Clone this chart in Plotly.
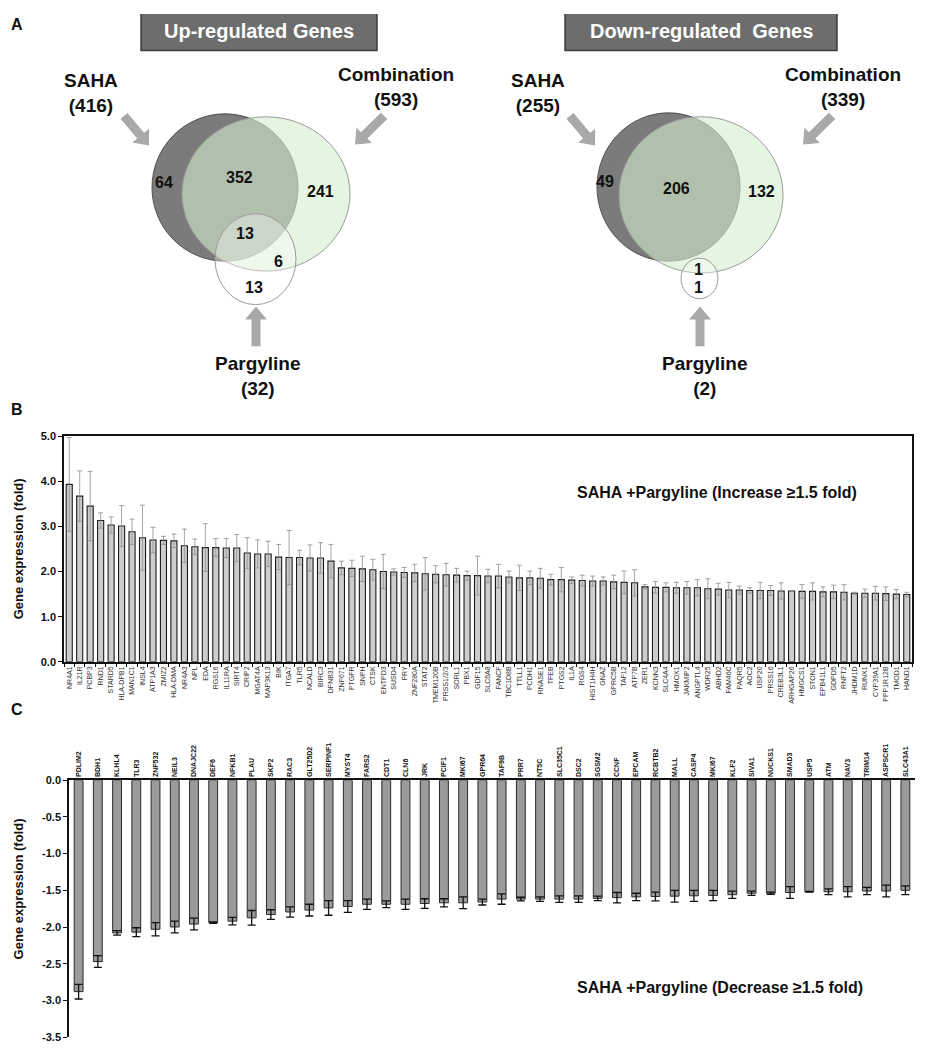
import numpy as np
import plotly.graph_objects as go

W, H = 933, 1050
FONT = "Liberation Sans, Arial, sans-serif"
# the page body margin shifts the figure by this much; positions below are page pixels
OX, OY = 8.0, 8.0

# ---- panel A : Venn counts
up_totals = [416, 593, 32]          # SAHA, Combination, Pargyline
up_regions = [64, 352, 241, 13, 6, 13]
down_totals = [255, 339, 2]
down_regions = [49, 206, 132, 1, 1]

# ---- panel B : increased genes
up_genes = [
    "NR4A1", "IL21R", "PCBP3", "RND1", "STARD5", "HLA-DPB1", "MAN1C1", "INSL4",
    "ATP1A3", "ZMIZ2", "HLA-DMA", "NR4A3", "NPL", "EDA", "RGS16", "IL11RA",
    "SIRT4", "CRIP2", "MGAT4A", "MAP3K13", "BIK", "ITGA7", "TLR5", "NCALD",
    "BIRC3", "DFNB31", "ZNF671", "PTGFR", "SNPH", "CTSK", "ENTPD3", "SUSD4",
    "FRY", "ZNF280A", "STAT2", "TMEM120B", "PRSS1/2/3", "SORL1", "PBX1", "GDF15",
    "SLC6A8", "FANCF", "TBC1D8B", "TTLL1", "PCDH1", "RNASE1", "TFEB", "PTGS2",
    "IL1A", "RGS4", "HIST1H4H", "GNAZ", "GPRC5B", "TAF12", "ATP7B", "ZER1",
    "KCNN3", "SLC4A4", "HMOX1", "JAKMIP2", "ANGPTL4", "WDR25", "ABHD2", "FAM46C",
    "PAQR5", "AOC2", "USP20", "PRSS16", "CREB3L1", "ARHGAP26", "HMGCS1", "STON1",
    "EPB41L1", "GDPD5", "RNFT2", "JHDM1D", "RUNX1", "CYP39A1", "PPP1R12B", "TMOD1",
    "HAND1",
]
up_fold = [
    3.93, 3.67, 3.45, 3.13, 3.03, 3.01, 2.88, 2.75, 2.70, 2.69, 2.68, 2.57,
    2.55, 2.53, 2.53, 2.52, 2.52, 2.41, 2.39, 2.39, 2.32, 2.31, 2.31, 2.30,
    2.30, 2.23, 2.08, 2.07, 2.06, 2.04, 2.00, 1.99, 1.98, 1.97, 1.95, 1.94,
    1.93, 1.92, 1.91, 1.91, 1.90, 1.90, 1.88, 1.86, 1.86, 1.85, 1.82, 1.82,
    1.81, 1.80, 1.79, 1.79, 1.77, 1.76, 1.75, 1.66, 1.65, 1.65, 1.64, 1.64,
    1.64, 1.62, 1.61, 1.59, 1.59, 1.58, 1.58, 1.58, 1.57, 1.57, 1.56, 1.56,
    1.55, 1.55, 1.54, 1.52, 1.52, 1.52, 1.51, 1.50, 1.49,
]
up_err = [
    1.04, 0.56, 0.77, 0.17, 0.18, 0.45, 0.28, 0.72, 0.28, 0.09, 0.15, 0.37,
    0.17, 0.53, 0.20, 0.21, 0.30, 0.34, 0.31, 0.28, 0.28, 0.60, 0.16, 0.29,
    0.34, 0.37, 0.15, 0.18, 0.28, 0.23, 0.38, 0.07, 0.11, 0.19, 0.36, 0.19,
    0.25, 0.15, 0.10, 0.43, 0.15, 0.26, 0.13, 0.28, 0.15, 0.22, 0.12, 0.27,
    0.07, 0.12, 0.11, 0.09, 0.15, 0.25, 0.29, 0.05, 0.13, 0.10, 0.12, 0.14,
    0.18, 0.22, 0.13, 0.17, 0.09, 0.06, 0.18, 0.11, 0.18, 0.01, 0.15, 0.19,
    0.11, 0.15, 0.17, 0.02, 0.09, 0.15, 0.15, 0.10, 0.05,
]

# ---- panel C : decreased genes
down_genes = [
    "PDLIM2", "BDH1", "KLHL4", "TLR3", "ZNF532", "NEIL3", "DNAJC22", "DEF6",
    "NFKB1", "PLAU", "SKP2", "RAC3", "GLT25D2", "SERPINF1", "MYST4", "FARS2",
    "CDT1", "CLN6", "JRK", "PCIF1", "MKI67", "GPR64", "TAF9B", "PRR7", "NT5C",
    "SLC35C1", "DSC2", "SGSM2", "CCNF", "EPCAM", "RCBTB2", "MALL", "CASP4",
    "MKI67", "KLF2", "SIVA1", "NUCKS1", "SMAD3", "USP5", "ATM", "NAV3",
    "TRIM14", "ASPSCR1", "SLC43A1",
]
down_fold = [
    -2.88, -2.47, -2.08, -2.07, -2.03, -2.00, -1.96, -1.94, -1.92, -1.875,
    -1.83, -1.795, -1.77, -1.74, -1.72, -1.69, -1.69, -1.69, -1.68, -1.67,
    -1.67, -1.66, -1.62, -1.62, -1.62, -1.62, -1.62, -1.61, -1.60, -1.59,
    -1.585, -1.58, -1.575, -1.57, -1.56, -1.54, -1.54, -1.53, -1.52, -1.52,
    -1.52, -1.51, -1.51, -1.50,
]
down_err = [
    0.10, 0.08, 0.03, 0.06, 0.09, 0.08, 0.08, 0.01, 0.05, 0.10, 0.065, 0.07,
    0.08, 0.10, 0.08, 0.07, 0.045, 0.07, 0.065, 0.055, 0.08, 0.04, 0.07, 0.025,
    0.03, 0.045, 0.045, 0.03, 0.07, 0.05, 0.06, 0.08, 0.075, 0.07, 0.05, 0.03,
    0.015, 0.08, 0.005, 0.04, 0.07, 0.05, 0.08, 0.06,
]
c_ticks = [0.0, -0.5, -1.0, -1.5, -2.0, -2.5, -3.0, -3.5]


def px(x):
    return (x - OX) / W


def py(y):
    return 1 - (y - OY) / H


def block_arrow(x0, y0, x1, y1, shaft=4.5, head=11.0, head_len=13.0):
    p0, p1 = np.array([x0, y0], float), np.array([x1, y1], float)
    u = (p1 - p0) / np.linalg.norm(p1 - p0)
    n = np.array([-u[1], u[0]])
    b = p1 - u * head_len
    pts = [p0 + n * shaft, b + n * shaft, b + n * head, p1,
           b - n * head, b - n * shaft, p0 - n * shaft]
    return "M " + " L ".join(f"{p[0]:.1f},{p[1]:.1f}" for p in pts) + " Z"


fig = go.Figure()

# panel B bars
fig.add_trace(go.Bar(
    x=up_genes, y=up_fold, width=0.58,
    marker=dict(color="#cdcdcd", line=dict(color="#1a1a1a", width=1.1)),
    error_y=dict(type="data", array=up_err, color="#8e8e8e", thickness=0.8, width=2.5),
    xaxis="x", yaxis="y", showlegend=False,
))

# panel C bars
fig.add_trace(go.Bar(
    x=list(range(len(down_genes))), y=down_fold, width=0.46,
    marker=dict(color="#9b9b9b", line=dict(color="#2a2a2a", width=1.0)),
    error_y=dict(type="data", array=down_err, color="#111111", thickness=1.3, width=4),
    xaxis="x2", yaxis="y2", showlegend=False,
))

shapes = []
annotations = []


def venn(label_pos, totals, regions, title, circles, arrows, nums):
    # circles: saha, combo, parg  (x0, y0, x1, y1) in page pixels
    saha, combo, parg = circles
    shapes.append(dict(type="circle", xref="x3", yref="y3", x0=saha[0], y0=saha[1],
                       x1=saha[2], y1=saha[3], fillcolor="#7b7b7b",
                       line=dict(color="#505050", width=1)))
    shapes.append(dict(type="circle", xref="x3", yref="y3", x0=combo[0], y0=combo[1],
                       x1=combo[2], y1=combo[3], fillcolor="rgba(212,238,205,0.6)",
                       line=dict(color="#9a9a9a", width=1)))
    shapes.append(dict(type="circle", xref="x3", yref="y3", x0=parg[0], y0=parg[1],
                       x1=parg[2], y1=parg[3], fillcolor="rgba(255,255,255,0.35)",
                       line=dict(color="#9a9a9a", width=1)))
    for a in arrows:
        shapes.append(dict(type="path", xref="x3", yref="y3", path=block_arrow(*a),
                           fillcolor="#a9a9a9", line=dict(width=0)))
    for (x, y), v in zip(nums, regions):
        annotations.append(dict(x=x, y=y, xref="x3", yref="y3", text=f"<b>{v}</b>",
                                showarrow=False, font=dict(size=16, family=FONT, color="#111")))
    bx0, bx1 = title[1], title[2]
    shapes.append(dict(type="rect", xref="x3", yref="y3", x0=bx0, y0=4, x1=bx1, y1=45,
                       fillcolor="#6d6d6d", line=dict(color="#3c3c3c", width=1.5)))
    annotations.append(dict(x=(bx0 + bx1) / 2, y=25, xref="x3", yref="y3",
                            text=f"<b>{title[0]}</b>", showarrow=False,
                            font=dict(size=20, family=FONT, color="white")))
    names = ["SAHA", "Combination", "Pargyline"]
    for name, tot, (x, y) in zip(names, totals, label_pos):
        annotations.append(dict(x=x, y=y, xref="x3", yref="y3",
                                text=f"<b>{name}</b><br><b>({tot})</b>", showarrow=False,
                                font=dict(size=19, family=FONT, color="#111"),
                                align="center"))


venn([(91, 88), (396, 82), (258, 374)], up_totals, up_regions,
     ("Up-regulated Genes", 141, 377),
     [(152, 109, 298, 258), (182, 112, 350, 268), (215, 210, 296, 302)],
     [(124, 111, 149, 141), (384, 111, 355, 140), (256, 344, 256, 304)],
     [(164, 178), (239, 173), (320, 188), (245, 230), (278, 258), (254, 285)])

venn([(538, 88), (843, 82), (705, 374)], down_totals, down_regions,
     ("Down-regulated&nbsp;&nbsp;Genes", 565, 837),
     [(597, 108, 740, 258), (619, 112, 783, 270), (681, 255, 718, 296)],
     [(570, 111, 595, 141), (832, 111, 803, 140), (700, 344, 700, 304)],
     [(605, 177), (676, 185), (761, 188), (698, 266), (698, 285)])


def paper_text(x, y, text, size, angle=0, xa="center", ya="middle"):
    annotations.append(dict(x=px(x), y=py(y), xref="paper", yref="paper", text=text,
                            xanchor=xa, yanchor=ya, textangle=angle,
                            showarrow=False, font=dict(size=size, family=FONT, color="#111")))


paper_text(8.5, 8.0, "<b>A</b>", 16, xa="left", ya="top")
paper_text(8.5, 408, "<b>B</b>", 16, xa="left")
paper_text(8.5, 712, "<b>C</b>", 16, xa="left")
paper_text(717, 492, "<b>SAHA +Pargyline (Increase \u22651.5 fold)</b>", 16)
paper_text(720, 993, "<b>SAHA +Pargyline (Decrease \u22651.5 fold)</b>", 16)
for yc in (549, 893):
    paper_text(9, yc, "<b>Gene expression (fold)</b>", 13, -90, xa="left")

fig.update_layout(
    width=W, height=H,
    margin=dict(l=0, r=0, t=0, b=0),
    paper_bgcolor="white", plot_bgcolor="white",
    font=dict(family=FONT, color="#111"),
    shapes=shapes, annotations=annotations,
    xaxis=dict(
        domain=[px(64), px(912)], anchor="y", type="category",
        range=[-0.5, len(up_genes) - 0.5],
        tickangle=-90, tickfont=dict(size=7, color="#333"),
        ticks="outside", ticklen=3, tickson="boundaries", tickcolor="#111",
        showline=True, linecolor="#111", linewidth=1.5, mirror=True,
        showgrid=False, zeroline=False,
    ),
    yaxis=dict(
        domain=[py(663.3), py(435)], anchor="x", range=[0, 5], dtick=1, tick0=0,
        tickformat=".1f", tickfont=dict(size=11, weight="bold"),
        ticks="outside", ticklen=4, tickcolor="#111",
        showline=True, linecolor="#111", linewidth=1.5, mirror=True,
        showgrid=False, zeroline=False,
    ),
    xaxis2=dict(
        domain=[px(69), px(915)], anchor="y2", side="top",
        range=[-0.5, len(down_genes) - 0.5],
        tickvals=list(range(len(down_genes))), ticktext=down_genes,
        tickangle=-90, tickfont=dict(size=7, weight="bold", color="#111"),
        ticks="", showline=True, linecolor="#111", linewidth=1.5,
        showgrid=False, zeroline=False,
    ),
    yaxis2=dict(
        domain=[py(1043), py(783)], anchor="x2", range=[-3.5, 0],
        tickvals=c_ticks, ticktext=[f"{v:.1f}" for v in c_ticks],
        tickfont=dict(size=11, weight="bold"),
        ticks="outside", ticklen=4, tickcolor="#111",
        showline=True, linecolor="#111", linewidth=1.5,
        showgrid=False, zeroline=False,
    ),
    xaxis3=dict(domain=[0, 1], anchor="y3", range=[OX, OX + W], visible=False),
    yaxis3=dict(domain=[1 - 380 / H, 1], anchor="x3", range=[OY + 380, OY],
                visible=False),
)

fig.write_html("out.html")
